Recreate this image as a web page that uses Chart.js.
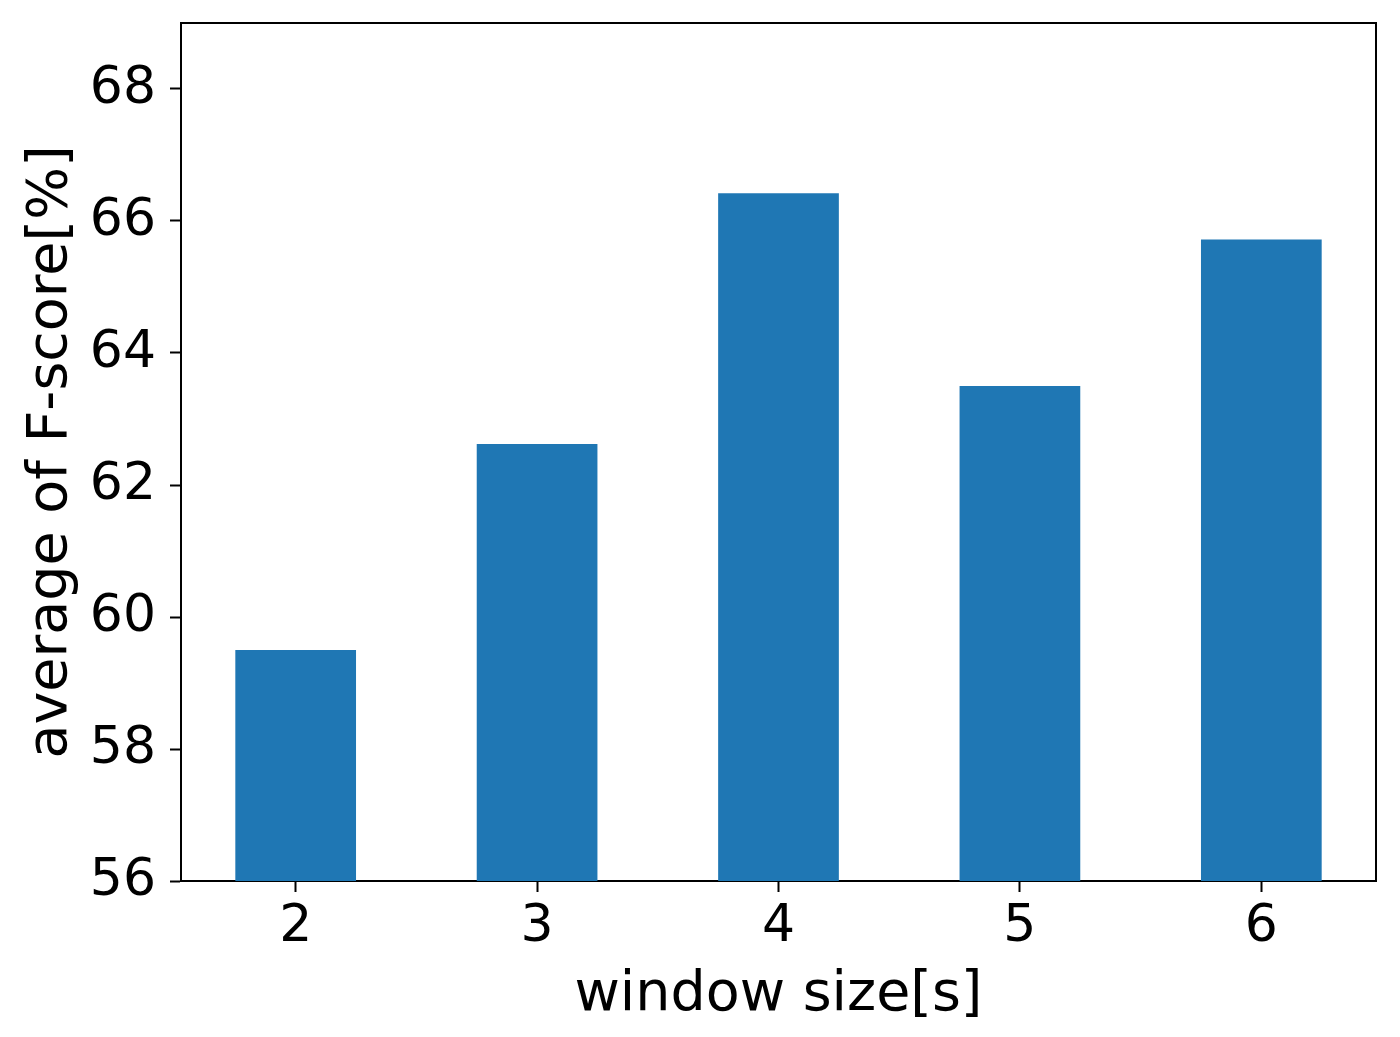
<!DOCTYPE html>
<html>
<head>
<meta charset="utf-8">
<script src="https://cdn.jsdelivr.net/npm/chart.js@4"></script>
<style>
  body { margin: 0; background: #fff; }
</style>
</head>
<body>
<canvas id="bar-chart" width="1400" height="1037"></canvas>
<script>
// window sizes and averaged F-scores
const windowSizes = [2, 3, 4, 5, 6];
const fScores = [59.5, 62.62, 66.42, 63.5, 65.72];
const yTicks = [56, 58, 60, 62, 64, 66, 68];

// draw the top and right edges of the axes box
const frameBox = {
    id: 'frameBox',
    afterDatasetsDraw(chart) {
        const a = chart.chartArea;
        const ctx = chart.ctx;
        ctx.save();
        ctx.strokeStyle = '#000';
        ctx.lineWidth = 2;
        ctx.beginPath();
        ctx.moveTo(a.left, a.top);
        ctx.lineTo(a.right, a.top);
        ctx.lineTo(a.right, a.bottom);
        ctx.stroke();
        ctx.restore();
    }
};

Chart.defaults.font.family = 'DejaVu Sans';
Chart.defaults.color = '#000';

const data = {
    datasets: [{
        data: windowSizes.map((w, i) => ({ x: w, y: fScores[i] })),
        backgroundColor: '#1f77b4',
        borderWidth: 0,
        categoryPercentage: 1,
        barPercentage: 0.5
    }]
};

const config = {
    type: 'bar',
    data,
    options: {
        responsive: false,
        animation: false,
        layout: { padding: { top: 23, right: 24 } },
        plugins: {
            legend: { display: false },
            tooltip: { enabled: false }
        },
        scales: {
            x: {
                type: 'linear',
                min: 1.525,
                max: 6.475,
                offset: false,
                afterBuildTicks: (scale) => {
                    scale.ticks = windowSizes.map(v => ({ value: v }));
                },
                afterFit: (scale) => { scale.height = 156; },
                grid: { offset: false, drawOnChartArea: false, drawTicks: true, tickLength: 11, tickColor: '#000', tickWidth: 2 },
                border: { color: '#000', width: 2 },
                ticks: { font: { size: 52 }, padding: 4, maxRotation: 0 },
                title: { display: true, text: 'window size[s]', font: { size: 55.5 }, padding: { top: 8, bottom: 8 } }
            },
            y: {
                min: 56,
                max: 69,
                afterBuildTicks: (scale) => {
                    scale.ticks = yTicks.map(v => ({ value: v }));
                },
                afterFit: (scale) => {
                    scale.width = 181;
                    // no extra room for the top label, it sits below the frame
                    scale.paddingTop = 0;
                    scale.paddingBottom = 0;
                },
                grid: { drawOnChartArea: false, drawTicks: true, tickLength: 11, tickColor: '#000', tickWidth: 2 },
                border: { color: '#000', width: 2 },
                ticks: { font: { size: 52 }, padding: 14 },
                title: { display: true, text: 'average of F-score[%]', font: { size: 55.5 }, padding: { top: 18, bottom: 18 } }
            }
        }
    },
    plugins: [frameBox]
};

// Render the chart
const barChart = new Chart(
    document.getElementById('bar-chart'),
    config
);
</script>
</body>
</html>
